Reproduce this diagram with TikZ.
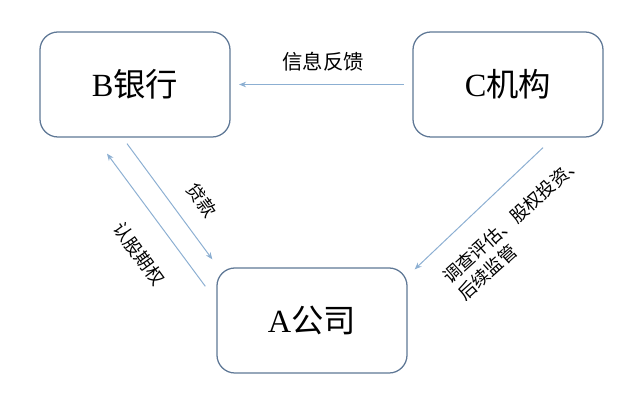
\documentclass[tikz,border=0pt]{standalone}
\usepackage{fontspec}
\setmainfont{Liberation Serif}
\newfontfamily\cjk{Noto Sans CJK SC}
\usetikzlibrary{calc, arrows.meta}
\definecolor{boxBlue}{RGB}{95,120,150}
\definecolor{flowBlue}{RGB}{140,175,210}

\begin{document}
\begin{tikzpicture}[
    x=0.025cm, y=-0.025cm,
    party/.style={rectangle, draw=boxBlue, fill=white, line width=0.9pt,
                  minimum width=4.75cm, minimum height=2.625cm, rounded corners=0.45cm,
                  font=\fontsize{23}{28}\selectfont},
    flow/.style={-{Stealth[length=5pt, width=4pt]}, flowBlue, line width=0.7pt},
    flowLabel/.style={font=\cjk\fontsize{12.8}{16}\selectfont, inner sep=0pt},
  ]
    \useasboundingbox (0,0) rectangle (640,406);

    % B bank, C institution, A company
    \node[party] (B) at (135,84.5) {B{\cjk 银行}};
    \node[party] (C) at (508,84.5) {C{\cjk 机构}};
    \node[party] (A) at (312,320.5) {A{\cjk 公司}};

    % feedback
    \draw[flow, shorten <=6pt, shorten >=6pt] (C.west) -- (B.east);
    \node[flowLabel, font=\cjk\fontsize{14.5}{18}\selectfont] (lblFeed) at (323,62) {信息反馈};

    % loan and option between B and A
    \coordinate (loanS) at ($(B.south)+(-8,6)$);
    \coordinate (loanE) at ($(A.north west)+(-4,-8)$);
    \draw[flow] (loanS) -- (loanE);
    \node[flowLabel, rotate=-54] (lblLoan) at (202,200) {贷款};

    \coordinate (optS) at ($(A.north west)+(-11,19)$);
    \coordinate (optE) at ($(B.south)+(-28,16)$);
    \draw[flow] (optS) -- (optE);
    \node[flowLabel, rotate=-54] (lblOpt) at (139,254) {认股期权};

    % services from C to A
    \coordinate (srvS) at ($(C.south)+(35,10)$);
    \coordinate (srvE) at ($(A.north east)+(7,2)$);
    \draw[flow] (srvS) -- (srvE);
    \node[flowLabel, rotate=42, align=left] (lblSrv) at (520,228)
      {调查评估、股权投资、\\后续监管};
  \end{tikzpicture}
\end{document}
